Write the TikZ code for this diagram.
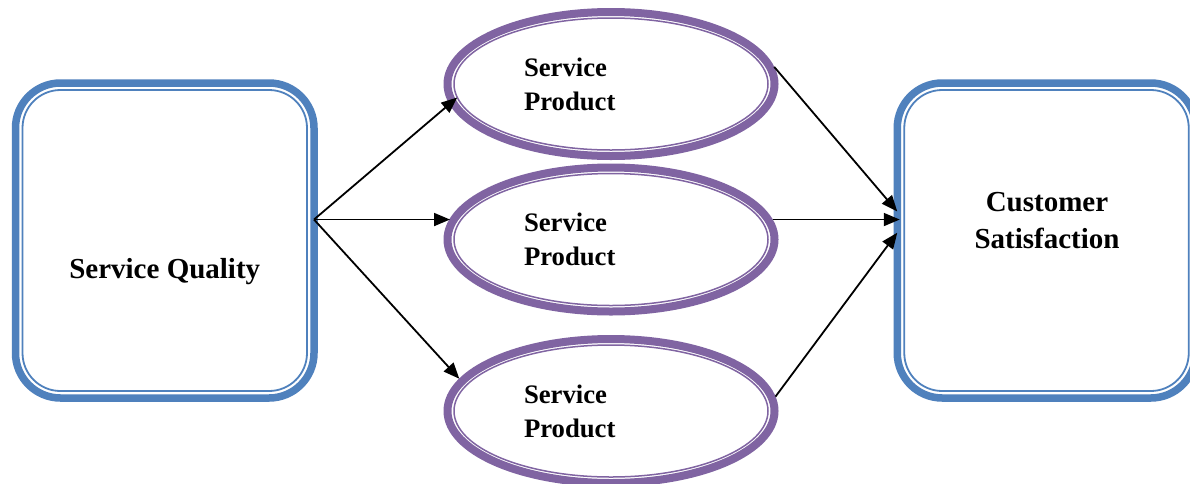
\documentclass[tikz,border=0pt]{standalone}
\usepackage{fontspec}
\setmainfont{Liberation Serif}
\usetikzlibrary{shapes.geometric,arrows.meta}
\definecolor{blu}{HTML}{4F81BD}
\definecolor{purp}{HTML}{8064A2}
\begin{document}
\begin{tikzpicture}[x=1pt,y=-1pt,
  boxout/.style={rectangle, draw=blu, line width=7.5pt, rounded corners=45pt,
    minimum width=298.5pt, minimum height=315pt, inner sep=0pt, outer sep=0pt},
  boxin/.style={rectangle, draw=blu, line width=1.8pt, rounded corners=38pt,
    minimum width=284.5pt, minimum height=301pt, inner sep=0pt, outer sep=0pt},
  ellout/.style={ellipse, draw=purp, line width=8pt, minimum width=327pt,
    minimum height=144pt, inner sep=0pt, outer sep=4pt, text width=174pt, align=left,
    font=\fontsize{26.7}{34}\selectfont\bfseries},
  ellin/.style={ellipse, draw=purp, line width=1.5pt, minimum width=314pt,
    minimum height=132pt, inner sep=0pt, outer sep=0pt},
  boxtext/.style={font=\fontsize{29}{37}\selectfont\bfseries, inner sep=0pt},
  conn/.style={line width=1.8pt, -{Triangle[length=16pt,width=13pt]}}
]
\useasboundingbox (0,0) rectangle (1190,483);
\fill[white] (0,0) rectangle (1190,483);

% boxes
\node[boxout] (sq) at (164.75,240.5) {};
\node[boxin] (sqi) at (164.75,240.5) {};
\node[boxout] (cs) at (1046.5,240.5) {};
\node[boxin] (csi) at (1046.5,240.5) {};
\node[boxtext, anchor=base] (sqt) at (164.75,278) {Service Quality};
\node[boxtext, align=center] (cst) at (1047,221) {Customer\\Satisfaction};

% ellipses
\node[ellout] (p1) at (611,84) {Service\\Product};
\node[ellin] (p1i) at (611,84) {};
\node[ellout] (p2) at (611,239.5) {Service\\Product};
\node[ellin] (p2i) at (611,239.5) {};
\node[ellout] (p3) at (611,411) {Service\\Product};
\node[ellin] (p3i) at (611,411) {};

% connectors
\draw[conn] (sq.8.2) -- (p1i.185.35);
\draw[conn, shorten >=-6.5pt] (sq.8.2) -- (sq.8.2 -| p2.west);
\draw[conn] (sq.8.2) -- (p3.168.5);
\draw[conn] (p1.6.7) -- (cs.169.08);
\draw[conn, shorten <=-6pt, shorten >=-2.5pt] (sq.8.2 -| p2.east) -- (sq.8.2 -| cs.west);
\draw[conn] (p3.5.09) -- (cs.177.89);
\end{tikzpicture}
\end{document}
